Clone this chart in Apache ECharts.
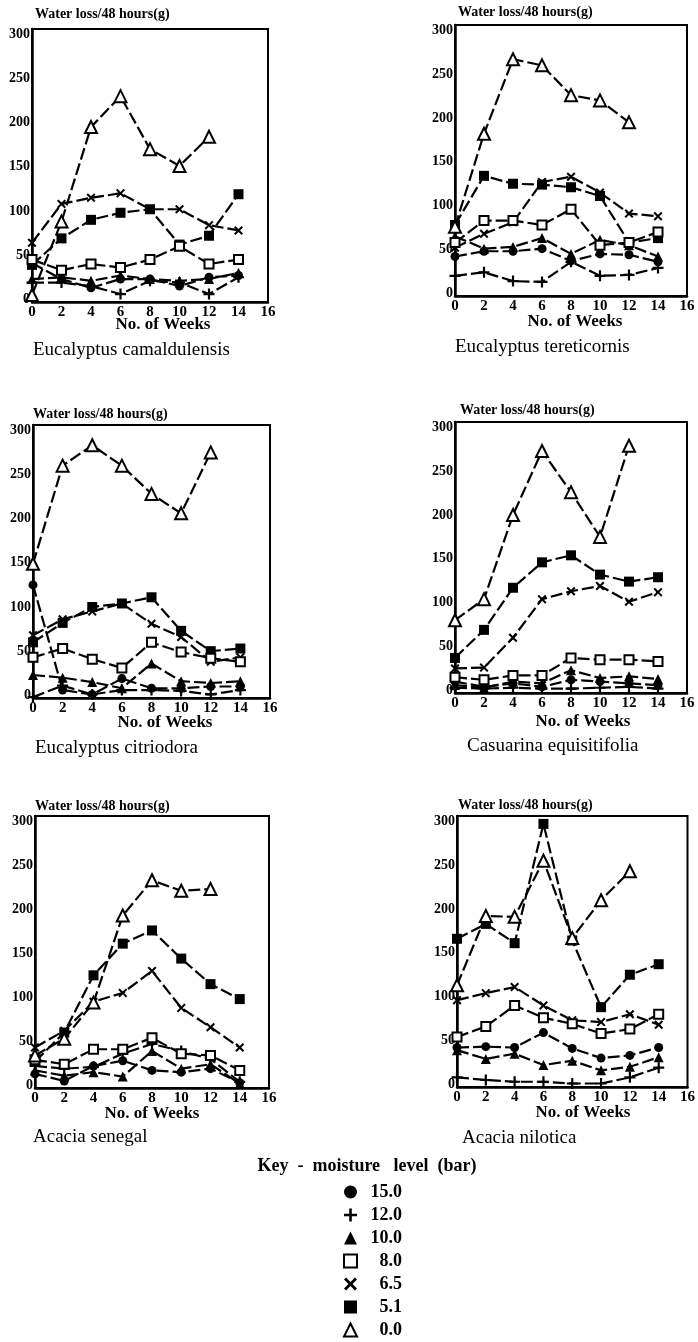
<!DOCTYPE html>
<html>
<head>
<meta charset="utf-8">
<script src="https://cdn.jsdelivr.net/npm/echarts@6/dist/echarts.min.js"></script>
<style>
html,body{margin:0;padding:0;background:#fff;}
#chart{width:698px;height:1342px;}
</style>
</head>
<body>
<div id="chart"></div>
<script>
// ---- data ----
const weeks = [0, 2, 4, 6, 8, 10, 12, 14];
const seriesNames = ['15.0', '12.0', '10.0', '8.0', '6.5', '5.1', '0.0'];
const yTicks = [0, 50, 100, 150, 200, 250, 300];
const xTicks = [0, 2, 4, 6, 8, 10, 12, 14, 16];
const species = ['Eucalyptus camaldulensis', 'Eucalyptus tereticornis', 'Eucalyptus citriodora',
                 'Casuarina equisitifolia', 'Acacia senegal', 'Acacia nilotica'];

// Eucalyptus camaldulensis
const camald15 = [41, 23, 13, 23, 23, 15, 25, 27];
const camald12 = [19, 19, 15, 6, 21, 19, 6, 25];
const camald10 = [23, 25, 21, 27, 23, 21, 23, 30];
const camald8  = [45, 33, 40, 36, 45, 60, 40, 45];
const camald65 = [64, 108, 115, 120, 102, 102, 84, 78];
const camald51 = [39, 69, 90, 98, 102, 62, 72, 119];
const camald0  = [5, 88, 195, 230, 170, 151, 184, null];

// Eucalyptus tereticornis
const teret15 = [42, 48, 48, 51, 37, 45, 44, 36];
const teret12 = [20, 24, 14, 13, 36, 20, 21, 29];
const teret10 = [65, 51, 53, 63, 45, 61, 55, 42];
const teret8  = [58, 83, 83, 78, 96, 55, 58, 70];
const teret65 = [52, 68, 81, 127, 133, 115, 91, 88];
const teret51 = [78, 134, 125, 124, 121, 111, 58, 63];
const teret0  = [76, 182, 267, 260, 226, 220, 195, null];

// Eucalyptus citriodora
const citrio15 = [125, 6, 1, 19, 8, 8, 10, 10];
const citrio12 = [-2, 11, 1, 6, 6, 5, 1, 6];
const citrio10 = [23, 20, 15, 8, 36, 16, 14, 16];
const citrio8  = [43, 53, 41, 31, 60, 49, 42, 38];
const citrio65 = [68, 86, 95, 104, 81, 66, 38, 43];
const citrio51 = [60, 82, 100, 104, 111, 73, 50, 53];
const citrio0  = [149, 260, 283, 260, 228, 206, 275, null];

// Casuarina equisitifolia
const casua15 = [10, 4, 8, 4, 12, 10, 8, 6];
const casua12 = [3, 2, 3, 2, 2, 3, 4, 2];
const casua10 = [6, 3, 10, 8, 23, 14, 16, 13];
const casua8  = [15, 12, 17, 17, 37, 35, 35, 33];
const casua65 = [25, 26, 60, 104, 113, 119, 101, 112];
const casua51 = [37, 69, 117, 146, 154, 132, 124, 129];
const casua0  = [80, 104, 200, 273, 226, 175, 279, null];

// Acacia senegal
const seneg15 = [13, 5, 22, 28, 17, 15, 19, 3];
const seneg12 = [22, 19, 21, 36, 47, 39, 30, 4];
const seneg10 = [17, 11, 15, 10, 39, 19, 24, 2];
const seneg8  = [29, 24, 41, 41, 54, 36, 34, 17];
const seneg65 = [43, 62, 95, 105, 130, 88, 66, 43];
const seneg51 = [27, 60, 125, 161, 176, 144, 115, 98];
const seneg0  = [34, 53, 94, 193, 233, 221, 223, null];

// Acacia nilotica
const nilot15 = [42, 43, 42, 59, 41, 30, 33, 42];
const nilot12 = [8, 5, 3, 3, 1, 1, 8, 19];
const nilot10 = [39, 29, 35, 22, 27, 16, 20, 31];
const nilot8  = [54, 66, 90, 76, 69, 58, 63, 80];
const nilot65 = [96, 104, 111, 90, 73, 71, 80, 68];
const nilot51 = [166, 183, 161, 297, 164, 88, 125, 137];
const nilot0  = [113, 192, 191, 255, 167, 210, 243, null];

const panelData = [
  [camald15, camald12, camald10, camald8, camald65, camald51, camald0],
  [teret15, teret12, teret10, teret8, teret65, teret51, teret0],
  [citrio15, citrio12, citrio10, citrio8, citrio65, citrio51, citrio0],
  [casua15, casua12, casua10, casua8, casua65, casua51, casua0],
  [seneg15, seneg12, seneg10, seneg8, seneg65, seneg51, seneg0],
  [nilot15, nilot12, nilot10, nilot8, nilot65, nilot51, nilot0]
];

// ---- styles / layout ----
const FONT = '"Liberation Serif", "DejaVu Serif", "Times New Roman", serif';
const PLUS = 'path://M4,0 L6,0 L6,4 L10,4 L10,6 L6,6 L6,10 L4,10 L4,6 L0,6 L0,4 L4,4 Z';
const CROSS = 'path://M1.6,0 L5,3.4 L8.4,0 L10,1.6 L6.6,5 L10,8.4 L8.4,10 L5,6.6 L1.6,10 L0,8.4 L3.4,5 L0,1.6 Z';
const markerStyle = [
  {symbol: 'circle', size: 9, open: false},
  {symbol: PLUS, size: 11, open: false},
  {symbol: 'triangle', size: 10, open: false},
  {symbol: 'rect', size: 9, open: true},
  {symbol: CROSS, size: 9, open: false},
  {symbol: 'rect', size: 10, open: false},
  {symbol: 'triangle', size: 12, open: true}
];
const grids = [
  {left: 32, top: 29, width: 236, height: 273},
  {left: 455, top: 25, width: 232, height: 271},
  {left: 33, top: 425, width: 237, height: 273},
  {left: 455, top: 422, width: 232, height: 271},
  {left: 35, top: 816, width: 234, height: 272},
  {left: 457, top: 816, width: 231, height: 271}
];
const yTitlePos = [[35, 14], [458, 12], [33, 414], [460, 410], [35, 806], [458, 805]];
const xTitlePos = [[163, 325], [575, 322], [165, 723], [583, 722], [152, 1114], [583, 1113]];
const namePos = [[33, 350], [455, 347], [35, 748], [467, 746], [33, 1137], [462, 1138]];

const option = {
  animation: false,
  backgroundColor: '#fff',
  grid: [], xAxis: [], yAxis: [], series: [], graphic: []
};

grids.forEach((g, i) => {
  option.grid.push(Object.assign({show: true, borderColor: '#000', borderWidth: 2, backgroundColor: 'transparent'}, g));
  option.xAxis.push({
    type: 'value', gridIndex: i, min: 0, max: 16, interval: 2,
    axisLine: {show: true, onZero: false, lineStyle: {color: '#000', width: 2.5}},
    axisTick: {show: false}, splitLine: {show: false},
    axisLabel: {color: '#000', fontFamily: FONT, fontSize: 15, fontWeight: 'bold', margin: 3,
                showMinLabel: true, showMaxLabel: true}
  });
  option.yAxis.push({
    type: 'value', gridIndex: i, min: -3, max: 306,
    axisLine: {show: true, onZero: false, lineStyle: {color: '#000', width: 2.5}},
    axisTick: {show: false}, splitLine: {show: false},
    axisLabel: {customValues: yTicks, color: '#000', fontFamily: FONT, fontSize: 14, fontWeight: 'bold', margin: 2}
  });
  panelData[i].forEach((vals, k) => {
    const ms = markerStyle[k];
    const data = [];
    weeks.forEach((w, j) => { if (vals[j] !== null) data.push([w, vals[j]]); });
    option.series.push({
      type: 'line', name: seriesNames[k], xAxisIndex: i, yAxisIndex: i,
      data: data, symbol: ms.symbol, symbolSize: ms.size, showSymbol: true,
      lineStyle: {color: '#000', width: 2.2, type: [12, 4]},
      itemStyle: ms.open ? {color: '#fff', borderColor: '#000', borderWidth: 2}
                         : {color: '#000', borderColor: '#000', borderWidth: 0},
      z: ms.open ? 3 : 2,
      emphasis: {disabled: true}, silent: true
    });
  });
  option.graphic.push({type: 'text', x: yTitlePos[i][0], y: yTitlePos[i][1],
    style: {text: 'Water loss/48 hours(g)', fill: '#000', font: 'bold 14px ' + FONT, align: 'left', verticalAlign: 'middle'}});
  option.graphic.push({type: 'text', x: xTitlePos[i][0], y: xTitlePos[i][1],
    style: {text: 'No. of Weeks', fill: '#000', font: 'bold 17px ' + FONT, align: 'center', verticalAlign: 'middle'}});
  option.graphic.push({type: 'text', x: namePos[i][0], y: namePos[i][1],
    style: {text: species[i], fill: '#000', font: '19px ' + FONT, align: 'left', verticalAlign: 'middle'}});
});

option.graphic.push({type: 'text', x: 367, y: 1166,
  style: {text: 'Key  -  moisture   level  (bar)', fill: '#000', font: 'bold 18px ' + FONT, align: 'center', verticalAlign: 'middle'}});

option.legend = {
  orient: 'vertical', left: 343, top: 1183, height: 170, itemWidth: 13, itemHeight: 13, itemGap: 5,
  padding: 0,
  selectedMode: false,
  data: seriesNames.map((n, k) => ({
    name: n, icon: markerStyle[k].symbol,
    itemStyle: markerStyle[k].open ? {color: '#fff', borderColor: '#000', borderWidth: 2}
                                    : {color: '#000', borderColor: '#000', borderWidth: 0}
  })),
  formatter: n => '{a|' + n + '}',
  textStyle: {color: '#000', fontFamily: FONT, fontSize: 18, fontWeight: 'bold',
    rich: {a: {width: 40, align: 'right', color: '#000', fontFamily: FONT, fontSize: 18, fontWeight: 'bold', lineHeight: 19}}}
};

const chart = echarts.init(document.getElementById('chart'), null, {renderer: 'canvas'});
chart.setOption(option);
</script>
</body>
</html>
